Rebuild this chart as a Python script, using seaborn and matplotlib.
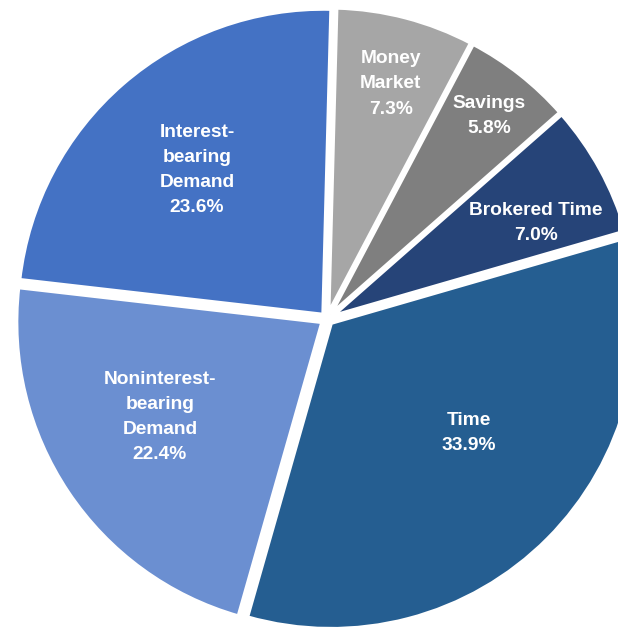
"""Deposit composition pie chart."""

import matplotlib

matplotlib.use("Agg")
import matplotlib.pyplot as plt
import numpy as np
import seaborn as sns

LABELS = [
    "Money\nMarket",
    "Savings",
    "Brokered Time",
    "Time",
    "Noninterest-\nbearing\nDemand",
    "Interest-\nbearing\nDemand",
]
SHARES = [7.3, 5.8, 7.0, 33.9, 22.4, 23.6]
COLORS = ["#A6A6A6", "#7F7F7F", "#264478", "#255E91", "#6B8FD1", "#4472C4"]
# label placement: clock angle (deg from 12 o'clock) and distance (fraction of radius)
LABEL_ANGLE = [15.2, 38.6, 65.3, 128.8, 239.6, 318.9]
LABEL_DIST = [0.796, 0.849, 0.752, 0.595, 0.633, 0.646]

sns.set_theme(style="white")
plt.rcParams["font.family"] = ["Liberation Sans", "DejaVu Sans"]

W, H = 618, 627
fig = plt.figure(figsize=(W / 100, H / 100), dpi=100)
ax = fig.add_axes([0, 0, 1, 1])

wedges, _ = ax.pie(
    SHARES,
    colors=COLORS,
    startangle=88.5,
    counterclock=False,
    explode=[0.0183] * len(SHARES),
    wedgeprops=dict(edgecolor="white", linewidth=2.9),
)

for lab, val, ang, d in zip(LABELS, SHARES, LABEL_ANGLE, LABEL_DIST):
    a = np.deg2rad(90 - ang)
    ax.text(
        d * np.cos(a),
        d * np.sin(a),
        f"{lab}\n{val:.1f}%",
        ha="center",
        va="center",
        color="white",
        fontsize=13.8,
        fontweight="bold",
        linespacing=1.62,
    )

# pie centre at (327, 319) px from top-left, radius ~306 px; cropped at the edges
r_px = 306
cx_px, cy_px = 327, H - 319
ax.set_aspect("auto")
ax.set_xlim(-cx_px / r_px, (W - cx_px) / r_px)
ax.set_ylim(-cy_px / r_px, (H - cy_px) / r_px)
ax.axis("off")

fig.savefig("out.png", dpi=100)
